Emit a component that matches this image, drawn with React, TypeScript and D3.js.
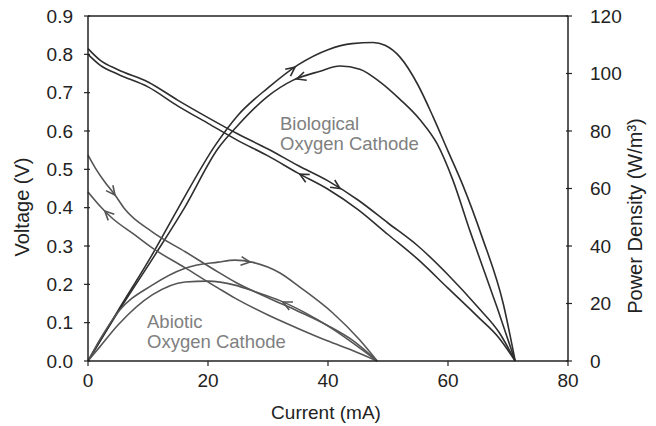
import React from "react";
import * as d3 from "d3";

// current (mA) sample points and readings
const bioVUpI = [0, 2, 5, 10, 15, 20, 25, 30, 35, 40, 45, 50, 55, 60, 65, 68.5, 71.2];
const bioVUp = [0.815, 0.785, 0.76, 0.728, 0.68, 0.635, 0.592, 0.553, 0.51, 0.47, 0.42, 0.36, 0.3, 0.225, 0.14, 0.075, 0];
const bioVDownI = [0, 2, 5, 10, 15, 20, 25, 30, 35, 40, 45, 50, 55, 60, 65, 68.5, 71.2];
const bioVDown = [0.8, 0.772, 0.748, 0.715, 0.665, 0.62, 0.575, 0.535, 0.49, 0.448, 0.395, 0.33, 0.265, 0.19, 0.115, 0.06, 0];

const bioPUpI = [0, 5, 10.7, 15, 21.2, 25, 30, 35, 40, 44, 47.5, 49.5, 52, 55, 57.5, 60, 62.5, 65.7, 69.2, 71.2];
const bioPUp = [0, 17.5, 37, 53, 75, 85.5, 95, 103, 108.3, 110.4, 110.8, 109.8, 105.7, 96, 85, 73, 61, 43, 20, 0];
const bioPDownI = [0, 5, 11.2, 16, 21.7, 25, 29.8, 34.2, 38.7, 42, 45.3, 48.7, 52, 55.3, 58.2, 60.8, 63.7, 66.5, 68.2, 71.2];
const bioPDown = [0, 17, 37, 53, 74, 82, 91.8, 97.7, 100.8, 102.6, 101.5, 97, 91, 84, 75.5, 63, 45, 28.5, 18.5, 0];

const abVUpI = [0, 1.2, 2.8, 4.5, 6.2, 10.7, 16.2, 21.7, 24.5, 30, 35, 40, 44, 48.2];
const abVUp = [0.537, 0.504, 0.467, 0.433, 0.395, 0.337, 0.285, 0.232, 0.206, 0.165, 0.13, 0.092, 0.055, 0];
const abVDownI = [0, 2.3, 4, 7.8, 10.7, 16.2, 21.7, 24.5, 30, 35, 40, 44, 48.2];
const abVDown = [0.441, 0.399, 0.373, 0.329, 0.295, 0.243, 0.19, 0.164, 0.12, 0.085, 0.052, 0.028, 0];

const abPUpI = [0, 2, 5, 10.7, 16.2, 21.7, 24.5, 27.5, 32, 35.3, 40.8, 45.3, 48.2];
const abPUp = [0, 7.5, 17, 26.4, 32.3, 34.4, 35.1, 34.3, 30.6, 25.7, 16.7, 7.3, 0];
const abPDownI = [0, 2, 5, 10.7, 16.2, 20, 24.5, 28, 32, 36, 40.3, 44, 48.2];
const abPDown = [0, 5, 12.5, 23, 27.5, 27.8, 26.4, 24, 21, 17, 11.8, 6.5, 0];

const xTicks = [0, 20, 40, 60, 80];
const vTicks = [0, 0.1, 0.2, 0.3, 0.4, 0.5, 0.6, 0.7, 0.8, 0.9];
const pTicks = [0, 20, 40, 60, 80, 100, 120];

const bioColor = "#2e2e2e";
const abColor = "#555555";

export default function App() {
  const width = 656;
  const height = 426;
  const left = 88;
  const right = 568;
  const top = 16;
  const bottom = 361;

  const x = d3.scaleLinear().domain([0, 80]).range([left, right]);
  const yV = d3.scaleLinear().domain([0, 0.9]).range([bottom, top]);
  const yP = d3.scaleLinear().domain([0, 120]).range([bottom, top]);

  const line = d3
    .line<[number, number]>()
    .x((d) => d[0])
    .y((d) => d[1])
    .curve(d3.curveMonotoneX);

  const toPx = (xs: number[], ys: number[], y: d3.ScaleLinear<number, number>) =>
    xs.map((v, i) => [x(v), y(ys[i])] as [number, number]);

  const series = [
    { key: "bvu", pts: toPx(bioVUpI, bioVUp, yV), color: bioColor },
    { key: "bvd", pts: toPx(bioVDownI, bioVDown, yV), color: bioColor },
    { key: "bpu", pts: toPx(bioPUpI, bioPUp, yP), color: bioColor },
    { key: "bpd", pts: toPx(bioPDownI, bioPDown, yP), color: bioColor },
    { key: "avu", pts: toPx(abVUpI, abVUp, yV), color: abColor },
    { key: "avd", pts: toPx(abVDownI, abVDown, yV), color: abColor },
    { key: "apu", pts: toPx(abPUpI, abPUp, yP), color: abColor },
    { key: "apd", pts: toPx(abPDownI, abPDown, yP), color: abColor },
  ];

  // arrows: series key, current where the tip sits, direction of sweep
  const arrows: [string, number, number][] = [
    ["bvu", 42, 1],
    ["bvd", 35.3, -1],
    ["bpu", 34.5, 1],
    ["bpd", 34.8, -1],
    ["avu", 4.5, 1],
    ["avd", 2.8, -1],
    ["apu", 27, 1],
    ["apd", 32.5, -1],
  ];

  const interp = (pts: [number, number][], px: number) => {
    for (let i = 1; i < pts.length; i++) {
      if (px <= pts[i][0]) {
        const t = (px - pts[i - 1][0]) / (pts[i][0] - pts[i - 1][0]);
        return pts[i - 1][1] + t * (pts[i][1] - pts[i - 1][1]);
      }
    }
    return pts[pts.length - 1][1];
  };

  const arrowPath = (key: string, at: number, dir: number) => {
    const s = series.find((d) => d.key === key)!;
    const px = x(at);
    const py = interp(s.pts, px);
    const qx = px - dir * 3;
    const qy = interp(s.pts, qx);
    const ang = Math.atan2(py - qy, px - qx);
    const len = 10;
    const spread = 0.45;
    const a1 = ang + Math.PI - spread;
    const a2 = ang + Math.PI + spread;
    return `M${px + len * Math.cos(a1)},${py + len * Math.sin(a1)}L${px},${py}L${px + len * Math.cos(a2)},${py + len * Math.sin(a2)}`;
  };

  const font = "Liberation Sans, Arial, sans-serif";

  return (
    <svg
      width={width}
      height={height}
      style={{ position: "absolute", left: 0, top: 0, background: "#fff" }}
      fontFamily={font}
    >
      {/* curves */}
      <g fill="none" strokeWidth={1.6}>
        {series.map((s) => (
          <path key={s.key} d={line(s.pts) || undefined} stroke={s.color} />
        ))}
        {arrows.map(([k, at, dir]) => (
          <path
            key={k + "a"}
            d={arrowPath(k, at, dir)}
            stroke={series.find((d) => d.key === k)!.color}
          />
        ))}
      </g>

      {/* labels */}
      <g fill="#808080" fontSize={18.5}>
        <text x={280} y={130}>Biological</text>
        <text x={280} y={150}>Oxygen Cathode</text>
        <text x={147} y={328}>Abiotic</text>
        <text x={147} y={348}>Oxygen Cathode</text>
      </g>

      {/* frame */}
      <g stroke="#222" strokeWidth={1.5}>
        <line x1={left} x2={right} y1={top} y2={top} />
        <line x1={left} x2={right} y1={bottom} y2={bottom} />
        <line x1={left} x2={left} y1={top} y2={bottom} />
        <line x1={right} x2={right} y1={top} y2={bottom} />
      </g>

      {/* bottom axis */}
      <g fill="#222" fontSize={19} textAnchor="middle">
        {xTicks.map((t) => (
          <g key={t}>
            <line x1={x(t)} x2={x(t)} y1={bottom} y2={bottom + 5} stroke="#222" strokeWidth={1.2} />
            <text x={x(t)} y={bottom + 26}>{t}</text>
          </g>
        ))}
        <text x={(left + right) / 2 - 2} y={419}>Current (mA)</text>
      </g>

      {/* left axis */}
      <g fill="#222" fontSize={19} textAnchor="end">
        {vTicks.map((t) => (
          <g key={t}>
            <line x1={left - 4} x2={left + 2} y1={yV(t)} y2={yV(t)} stroke="#222" strokeWidth={1.2} />
            <text x={left - 15} y={yV(t)} dy="0.35em">{t.toFixed(1)}</text>
          </g>
        ))}
        <text
          transform={`translate(29, 207) rotate(-90)`}
          textAnchor="middle"
          fontSize={20}
        >
          Voltage (V)
        </text>
      </g>

      {/* right axis */}
      <g fill="#222" fontSize={19} textAnchor="start">
        {pTicks.map((t) => (
          <g key={t}>
            <line x1={right - 2} x2={right + 4} y1={yP(t)} y2={yP(t)} stroke="#222" strokeWidth={1.2} />
            <text x={right + 22} y={yP(t)} dy="0.35em">{t}</text>
          </g>
        ))}
        <text
          transform={`translate(642, 216) rotate(-90)`}
          textAnchor="middle"
          fontSize={20}
        >
          Power Density (W/m³)
        </text>
      </g>
    </svg>
  );
}
